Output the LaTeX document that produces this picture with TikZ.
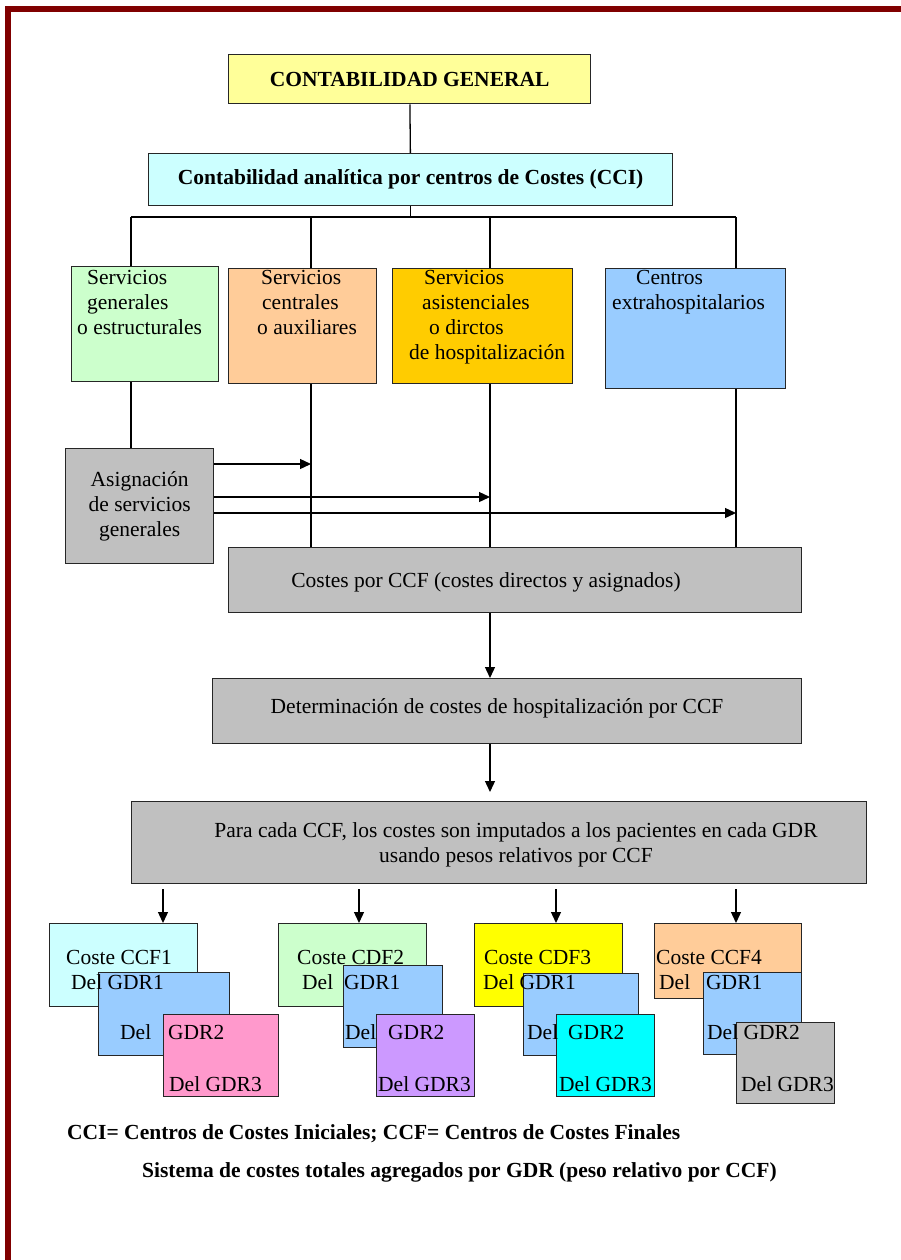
\documentclass[tikz,border=0pt]{standalone}
\usepackage{fontspec}
\setmainfont{Liberation Serif}
\usetikzlibrary{arrows.meta}

\definecolor{marco}{HTML}{800000}
\definecolor{amarillo}{HTML}{FFFF99}
\definecolor{celeste}{HTML}{CCFFFF}
\definecolor{verde}{HTML}{CCFFCC}
\definecolor{naranja}{HTML}{FFCC99}
\definecolor{oro}{HTML}{FFCC00}
\definecolor{azul}{HTML}{99CCFF}
\definecolor{gris}{HTML}{C0C0C0}
\definecolor{rosa}{HTML}{FF99CC}
\definecolor{lila}{HTML}{CC99FF}
\definecolor{turquesa}{HTML}{00FFFF}
\definecolor{limon}{HTML}{FFFF00}

\newcommand{\letra}{\fontsize{21.5pt}{25pt}\selectfont}

\tikzset{
  caja/.style={draw=black!85, line width=1.3pt, anchor=north west, inner sep=0pt},
  texto/.style={inner sep=0pt, align=left, anchor=north west},
  etiq/.style={inner sep=0pt, anchor=base west},
  linea/.style={line width=1.3pt},
  flecha/.style={line width=1.3pt, -{Triangle[length=11pt,width=10pt]}},
}

\begin{document}
\begin{tikzpicture}[x=1pt, y=-1pt, font=\letra]
    \useasboundingbox (0,0) rectangle (901,1260);
    % Marco
    \draw[line width=6pt, marco] (8,1260) -- (8,9) -- (901,9);

    % Contabilidad
    \node[caja, fill=amarillo, minimum width=362pt, minimum height=49pt, font=\letra\bfseries] (general) at (228,54) {CONTABILIDAD GENERAL};
    \node[caja, fill=celeste, minimum width=524pt, minimum height=52pt, font=\letra\bfseries] (analitica) at (148,153) {Contabilidad analítica por centros de Costes (CCI)};

    % Centros de costes iniciales
    \node[caja, fill=verde, minimum width=147pt, minimum height=115pt] (sgen) at (71,266) {};
    \node[caja, fill=naranja, minimum width=148pt, minimum height=115pt] (scen) at (228,268) {};
    \node[caja, fill=oro, minimum width=180pt, minimum height=115pt] (sasi) at (392,268) {};
    \node[caja, fill=azul, minimum width=180pt, minimum height=120pt] (cext) at (605,268) {};
    \node[texto] (tsgen) at (77,270) {\hspace*{10pt}Servicios\\\hspace*{10pt}generales\\o estructurales};
    \node[texto] (tscen) at (257,270) {\hspace*{4pt}Servicios\\\hspace*{5pt}centrales\\o auxiliares};
    \node[texto] (tsasi) at (409,270) {\hspace*{15pt}Servicios\\\hspace*{13pt}asistenciales\\\hspace*{20pt}o dirctos\\de hospitalización};
    \node[texto] (tcext) at (612,270) {\hspace*{24pt}Centros\\extrahospitalarios};

    % Asignacion y costes finales
    \node[caja, fill=gris, minimum width=148pt, minimum height=115pt, align=center] (asig) at (65,448) {Asignación\\de servicios\\generales};
    \node[caja, fill=gris, minimum width=573pt, minimum height=65pt] (costes) at (228,547) {};
    \node[caja, fill=gris, minimum width=589pt, minimum height=65pt] (determ) at (212,678) {};
    \node[caja, fill=gris, minimum width=735pt, minimum height=82pt] (para) at (131,801) {};
    \node[inner sep=0pt] (tcostes) at (486,582) {Costes por CCF (costes directos y asignados)};
    \node[inner sep=0pt] (tdeterm) at (497,708) {Determinación de costes de hospitalización por CCF};
    \node[inner sep=0pt, align=center] (tpara) at (516,845) {Para cada CCF, los costes son imputados a los pacientes en cada GDR\\usando pesos relativos por CCF};

    % Lineas
    \coordinate (b1) at (131,217);
    \coordinate (b2) at (311,217);
    \coordinate (b3) at (490,217);
    \coordinate (b4) at (736,217);
    \draw[linea] (general) -- (analitica);
    \draw[linea] (analitica.south) -- (analitica.south |- b1);
    \draw[linea] (b1) -- (b4);
    \draw[linea] (b1) -- (b1 |- sgen.north);
    \draw[linea] (b2) -- (b2 |- scen.north);
    \draw[linea] (b3) -- (b3 |- sasi.north);
    \draw[linea] (b4) -- (b4 |- cext.north);
    \draw[linea] (b1 |- sgen.south) -- (b1 |- asig.north);
    \draw[linea] (b2 |- scen.south) -- (b2 |- costes.north);
    \draw[linea] (b3 |- sasi.south) -- (b3 |- costes.north);
    \draw[linea] (b4 |- cext.south) -- (b4 |- costes.north);

    % Flechas de asignacion
    \coordinate (f1) at (0,464);
    \coordinate (f2) at (0,497);
    \coordinate (f3) at (0,513);
    \draw[flecha] (asig.east |- f1) -- (b2 |- f1);
    \draw[flecha] (asig.east |- f2) -- (b3 |- f2);
    \draw[flecha] (asig.east |- f3) -- (b4 |- f3);
    \draw[flecha] (costes.south -| b3) -- (determ.north -| b3);
    \draw[flecha] (determ.south -| b3) -- ([yshift=9pt]para.north -| b3);

    % Costes por GDR
    \node[caja, fill=celeste, minimum width=148pt, minimum height=83pt] (ccf1) at (49,923) {};
    \node[caja, fill=azul, minimum width=131pt, minimum height=83pt] (g1a) at (98,972) {};
    \node[caja, fill=rosa, minimum width=115pt, minimum height=82pt] (g1b) at (163,1014) {};
    \node[caja, fill=verde, minimum width=148pt, minimum height=83pt] (cdf2) at (278,923) {};
    \node[caja, fill=azul, minimum width=99pt, minimum height=82pt] (g2a) at (343,965) {};
    \node[caja, fill=lila, minimum width=98pt, minimum height=82pt] (g2b) at (376,1014) {};
    \node[caja, fill=limon, minimum width=148pt, minimum height=83pt] (cdf3) at (474,923) {};
    \node[caja, fill=azul, minimum width=115pt, minimum height=82pt] (g3a) at (523,973) {};
    \node[caja, fill=turquesa, minimum width=98pt, minimum height=82pt] (g3b) at (556,1014) {};
    \node[caja, fill=naranja, minimum width=147pt, minimum height=75pt] (ccf4) at (654,923) {};
    \node[caja, fill=azul, minimum width=98pt, minimum height=82pt] (g4a) at (703,972) {};
    \node[caja, fill=gris, minimum width=98pt, minimum height=81pt] (g4b) at (736,1022) {};

    \coordinate (d1) at (163,889);
    \coordinate (d2) at (359,889);
    \coordinate (d3) at (556,889);
    \coordinate (d4) at (736,889);
    \draw[flecha] (d1) -- (d1 |- ccf1.north);
    \draw[flecha] (d2) -- (d2 |- cdf2.north);
    \draw[flecha] (d3) -- (d3 |- cdf3.north);
    \draw[flecha] (d4) -- (d4 |- ccf4.north);

    \node[etiq] (e11) at (66,964) {Coste CCF1};
    \node[etiq] (e12) at (71,989) {Del GDR1};
    \node[etiq] (e13) at (120,1039) {Del};
    \node[etiq] (e14) at (168,1039) {GDR2};
    \node[etiq] (e15) at (169,1091) {Del GDR3};
    \node[etiq] (e21) at (297,964) {Coste CDF2};
    \node[etiq] (e22) at (302,989) {Del};
    \node[etiq] (e23) at (344,989) {GDR1};
    \node[etiq] (e24) at (345,1039) {Del};
    \node[etiq] (e25) at (388,1039) {GDR2};
    \node[etiq] (e26) at (378,1091) {Del GDR3};
    \node[etiq] (e31) at (484,964) {Coste CDF3};
    \node[etiq] (e32) at (483,989) {Del GDR1};
    \node[etiq] (e33) at (527,1039) {Del};
    \node[etiq] (e34) at (568,1039) {GDR2};
    \node[etiq] (e35) at (559,1091) {Del GDR3};
    \node[etiq] (e41) at (656,964) {Coste CCF4};
    \node[etiq] (e42) at (659,989) {Del};
    \node[etiq] (e43) at (706,989) {GDR1};
    \node[etiq] (e44) at (707,1039) {Del GDR2};
    \node[etiq] (e45) at (741,1091) {Del GDR3};

    % Notas
    \node[etiq, font=\letra\bfseries] (nota) at (67,1139) {CCI= Centros de Costes Iniciales; CCF= Centros de Costes Finales};
    \node[etiq, font=\letra\bfseries] (sistema) at (142,1177) {Sistema de costes totales agregados por GDR (peso relativo por CCF)};
\end{tikzpicture}
\end{document}
